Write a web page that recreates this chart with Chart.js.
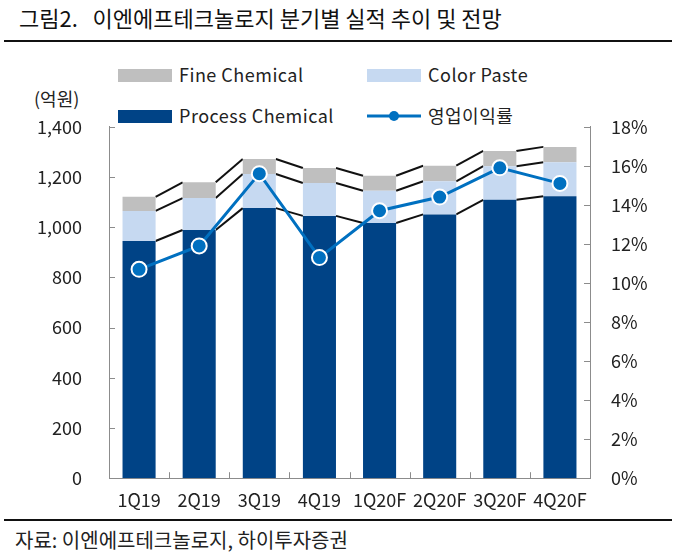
<!DOCTYPE html>
<html>
<head>
<meta charset="utf-8">
<script src="https://cdn.jsdelivr.net/npm/chart.js@4.4.0/dist/chart.umd.min.js"></script>
<style>
  body { margin: 0; background: #fff; font-family: "Noto Sans CJK KR", "Noto Sans", sans-serif; color: #111; }
  #wrap { position: relative; width: 680px; height: 559px; overflow: hidden; }
  .title { position: absolute; left: 19px; top: 1px; font-size: 22px; white-space: nowrap; }
  .rule { position: absolute; left: 4px; width: 668px; height: 2px; background: #111; }
  .unit { position: absolute; left: 34px; top: 85px; font-size: 18px; color: #222; }
  .leg { position: absolute; font-size: 18px; letter-spacing: 0.5px; color: #222; white-space: nowrap; }
  .leg i { display: inline-block; width: 54px; height: 13px; vertical-align: middle; margin-right: 7px; position: relative; top: -2px; }
  .src { position: absolute; left: 15px; top: 525px; font-size: 20px; color: #222; }
  #box { position: absolute; left: 0; top: 89px; width: 680px; height: 427px; }
</style>
</head>
<body>
<div id="wrap">
  <div class="title">그림2.&nbsp;&nbsp; 이엔에프테크놀로지 분기별 실적 추이 및 전망</div>
  <div class="rule" style="top:40px"></div>
  <div class="leg" style="left:118px;top:61px"><i style="background:#bfbfbf"></i>Fine Chemical</div>
  <div class="leg" style="left:367px;top:61px"><i style="background:#c6d9f1"></i>Color Paste</div>
  <div class="leg" style="left:118px;top:102px"><i style="background:#004386"></i>Process Chemical</div>
  <div class="leg" style="left:367px;top:102px"><svg width="54" height="14" style="vertical-align:middle;margin-right:7px;position:relative;top:-2px"><line x1="0" y1="7" x2="54" y2="7" stroke="#0070c0" stroke-width="3"/><circle cx="27" cy="7" r="5" fill="#0070c0"/></svg>영업이익률</div>
  <div class="unit">(억원)</div>
  <div id="box"><canvas id="myChart"></canvas></div>
  <div class="rule" style="top:519px"></div>
  <div class="src">자료: 이엔에프테크놀로지, 하이투자증권</div>
</div>
<script>
// 분기별 실적 (억원), 영업이익률 (%)
var quarters = ["1Q19", "2Q19", "3Q19", "4Q19", "1Q20F", "2Q20F", "3Q20F", "4Q20F"];
var processChemical = [945, 989, 1076, 1045, 1017, 1051, 1109, 1123];
var colorPaste = [120, 127, 136, 131, 128, 132, 134, 136];
var fineChemical = [56, 63, 60, 60, 60, 62, 61, 61];
var opMargin = [10.7, 11.9, 15.6, 11.3, 13.7, 14.4, 15.9, 15.1];
var leftTicks = [0, 200, 400, 600, 800, 1000, 1200, 1400];
var rightTicks = [0, 2, 4, 6, 8, 10, 12, 14, 16, 18];

var axisColor = "#8c8c8c";
var tickFont = { family: "'Noto Sans CJK KR', 'Noto Sans', sans-serif", size: 18 };

// 막대 사이 연결선
var seriesLines = {
  id: "seriesLines",
  beforeDatasetsDraw: function (chart) {
    var ctx = chart.ctx;
    ctx.save();
    ctx.strokeStyle = "#111";
    ctx.lineWidth = 2;
    for (var d = 0; d < 3; d++) {
      var bars = chart.getDatasetMeta(d).data;
      for (var i = 0; i < bars.length - 1; i++) {
        var a = bars[i], b = bars[i + 1];
        ctx.beginPath();
        ctx.moveTo(a.x + a.width / 2, a.y);
        ctx.lineTo(b.x - b.width / 2, b.y);
        ctx.stroke();
      }
    }
    ctx.restore();
  }
};

// 안쪽 방향 눈금
var innerTicks = {
  id: "innerTicks",
  afterDraw: function (chart) {
    var ctx = chart.ctx, a = chart.chartArea;
    var x = chart.scales.x, y = chart.scales.y, y1 = chart.scales.y1;
    ctx.save();
    ctx.strokeStyle = axisColor;
    ctx.lineWidth = 1;
    ctx.beginPath();
    leftTicks.forEach(function (v) {
      var p = Math.round(y.getPixelForValue(v)) + 0.5;
      ctx.moveTo(a.left, p); ctx.lineTo(a.left + 6, p);
    });
    rightTicks.forEach(function (v) {
      var p = Math.round(y1.getPixelForValue(v)) + 0.5;
      ctx.moveTo(a.right, p); ctx.lineTo(a.right - 6, p);
    });
    for (var i = 1; i < quarters.length; i++) {
      var px = Math.round((x.getPixelForValue(i - 1) + x.getPixelForValue(i)) / 2) + 0.5;
      ctx.moveTo(px, a.bottom); ctx.lineTo(px, a.bottom - 6);
    }
    ctx.stroke();
    ctx.restore();
  }
};

new Chart("myChart", {
  type: "bar",
  data: {
    labels: quarters,
    datasets: [
      { label: "Process Chemical", data: processChemical, backgroundColor: "#004386", stack: "s", yAxisID: "y", order: 2 },
      { label: "Color Paste", data: colorPaste, backgroundColor: "#c6d9f1", stack: "s", yAxisID: "y", order: 2 },
      { label: "Fine Chemical", data: fineChemical, backgroundColor: "#bfbfbf", stack: "s", yAxisID: "y", order: 2 },
      {
        type: "line", label: "영업이익률", data: opMargin, yAxisID: "y1", order: 1,
        borderColor: "#0070c0", borderWidth: 3, pointRadius: 7.5, pointBackgroundColor: "#0070c0",
        pointBorderColor: "#fff", pointBorderWidth: 2, tension: 0
      }
    ]
  },
  options: {
    responsive: true,
    maintainAspectRatio: false,
    animation: false,
    layout: { padding: { top: 10, left: 0, right: 0, bottom: 0 } },
    plugins: { legend: { display: false }, title: { display: false }, tooltip: { enabled: false } },
    datasets: { bar: { barPercentage: 0.55, categoryPercentage: 1 } },
    scales: {
      x: {
        stacked: true,
        grid: { display: false, drawTicks: false },
        border: { display: true, color: axisColor, width: 1 },
        ticks: { font: tickFont, color: "#222", padding: 11, maxRotation: 0, autoSkip: false },
        afterFit: function (s) { s.height = 37; }
      },
      y: {
        stacked: true, min: 0, max: 1400,
        grid: { display: false, drawTicks: false },
        border: { display: true, color: axisColor, width: 1 },
        afterBuildTicks: function (s) { s.ticks = leftTicks.map(function (v) { return { value: v }; }); },
        ticks: { font: tickFont, color: "#222", padding: 27, callback: function (v) { return v.toLocaleString("en-US"); } },
        afterFit: function (s) { s.width = 109; }
      },
      y1: {
        position: "right", min: 0, max: 18,
        grid: { display: false, drawTicks: false },
        border: { display: true, color: axisColor, width: 1 },
        afterBuildTicks: function (s) { s.ticks = rightTicks.map(function (v) { return { value: v }; }); },
        ticks: { font: tickFont, color: "#222", padding: 21, callback: function (v) { return v + "%"; } },
        afterFit: function (s) { s.width = 90; }
      }
    }
  },
  plugins: [seriesLines, innerTicks]
});
</script>
</body>
</html>
